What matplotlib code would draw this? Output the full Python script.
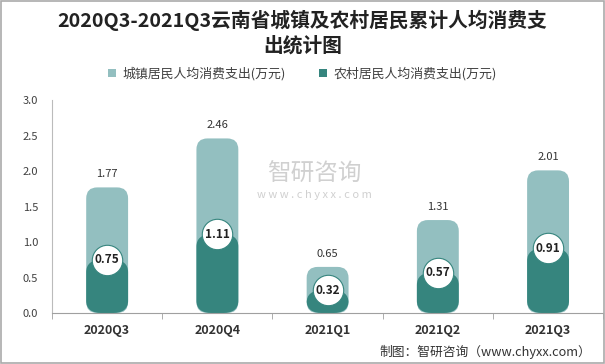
import matplotlib.pyplot as plt
from matplotlib.patches import FancyBboxPatch, Rectangle

plt.rcParams['font.family'] = ['Noto Sans CJK SC', 'DejaVu Sans']

quarters = ["2020Q3", "2020Q4", "2021Q1", "2021Q2", "2021Q3"]
urban = [1.77, 2.46, 0.65, 1.31, 2.01]
rural = [0.75, 1.11, 0.32, 0.57, 0.91]
yticks = [0.0, 0.5, 1.0, 1.5, 2.0, 2.5, 3.0]

light = "#93BFC0"
dark = "#36857E"
grey = "#A0A0A0"

fig = plt.figure(figsize=(6.05, 3.64), dpi=100)
ax = fig.add_axes([0.086, 0.140, 0.911, 0.585])

w = 0.38
aspect = 1.55
for i, (u, r) in enumerate(zip(urban, rural)):
    ax.add_patch(FancyBboxPatch((i - w / 2, 0), w, u,
                                boxstyle="round,pad=0,rounding_size=0.1",
                                mutation_aspect=aspect, fc=light, ec="none"))
    ax.add_patch(FancyBboxPatch((i - w / 2, 0), w, r,
                                boxstyle="round,pad=0,rounding_size=0.14",
                                mutation_aspect=aspect * 0.8, fc=dark, ec="none"))
    ax.annotate(f"{u:.2f}", (i, u), xytext=(0, 6), textcoords="offset points",
                ha="center", va="bottom", fontsize=8, color="#333333")
    ax.text(i, r, f"{r:.2f}", ha="center", va="center", fontsize=8.5,
            fontweight="bold", color="#222222", zorder=5)

ax.scatter(range(len(rural)), rural, s=480, c="white", edgecolors=dark,
           linewidths=0.8, zorder=4)

ax.set_xlim(-0.5, len(quarters) - 0.5)
ax.set_ylim(0, 3.0)
ax.set_yticks(yticks)
ax.set_yticklabels([f"{v:.1f}" for v in yticks], fontsize=8, color="#404040")
ax.set_xticks(range(len(quarters)))
ax.set_xticklabels(quarters, fontsize=9, fontweight="bold", color="#333333")
ax.set_xticks([i - 0.5 for i in range(len(quarters) + 1)], minor=True)
ax.tick_params(axis="x", which="major", length=0, pad=8)
ax.tick_params(axis="x", which="minor", length=4, color=grey, direction="out")
ax.tick_params(axis="y", length=0, pad=10)
for s in ["top", "right"]:
    ax.spines[s].set_visible(False)
ax.spines["left"].set_color("#BBBBBB")
ax.spines["bottom"].set_color(grey)

fig.text(0.5, 0.91, "2020Q3-2021Q3云南省城镇及农村居民累计人均消费支\n出统计图",
         ha="center", va="center", fontsize=14.2, fontweight="bold",
         color="#222222", linespacing=1.3)

ax.bar([0], [0], color=light, label="城镇居民人均消费支出(万元)")
ax.bar([0], [0], color=dark, label="农村居民人均消费支出(万元)")
fig.legend(loc="center", bbox_to_anchor=(0.5, 0.797), ncol=2, frameon=False,
           fontsize=9.3, handlelength=0.6, handleheight=0.6, columnspacing=2.6,
           handletextpad=0.5, labelcolor="#404040")

# watermark
fig.text(0.52, 0.52, "智研咨询", ha="center", va="center", fontsize=17,
         color="#D0D0D0", zorder=0)
fig.text(0.52, 0.465, "w w w . c h y x x . c o m", ha="center", va="center",
         fontsize=8, color="#D0D0D0", zorder=0)

fig.text(0.977, 0.032, "制图：智研咨询（www.chyxx.com）", ha="right", va="center",
         fontsize=9.2, color="#333333")

fig.add_artist(Rectangle((0.001, 0.002), 0.997, 0.995, transform=fig.transFigure,
                         fill=False, ec="#AAAAAA", lw=1.2))

fig.savefig("out.png", dpi=100)
